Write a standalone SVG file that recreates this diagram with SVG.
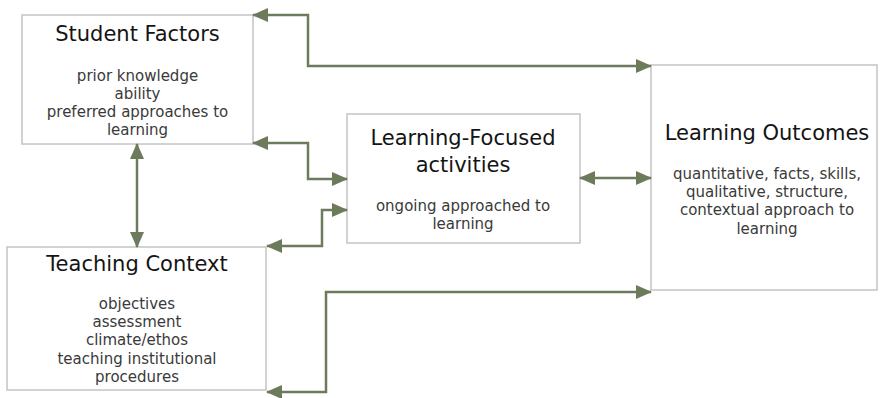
<svg xmlns="http://www.w3.org/2000/svg" width="880" height="398" viewBox="0 0 880 398">
  <style>
    .box { fill: #ffffff; stroke: #c4c4c4; stroke-width: 1.5; }
    .title { font-family: "DejaVu Sans", Verdana, sans-serif; font-size: 21px; fill: #141414; text-anchor: middle; }
    .body { font-family: "DejaVu Sans", Verdana, sans-serif; font-size: 15px; fill: #3a3a3a; text-anchor: middle; }
    .link { fill: none; stroke: #6d7b5d; stroke-width: 2.5; marker-start: url(#head); marker-end: url(#head); }
  </style>
  <defs>
    <marker id="head" markerUnits="userSpaceOnUse" viewBox="0 0 16 14" refX="15" refY="7" markerWidth="16" markerHeight="14" orient="auto-start-reverse">
      <path d="M0,0 L16,7 L0,14 Z" fill="#6d7b5d"/>
    </marker>
  </defs>
  <rect width="880" height="398" fill="#ffffff"/>

  <g id="student-factors">
    <rect class="box" x="22" y="15" width="231" height="129"/>
    <text class="title" x="137.5" y="41">Student Factors</text>
    <text class="body" x="137.5" y="81">prior knowledge</text>
    <text class="body" x="137.5" y="99">ability</text>
    <text class="body" x="137.5" y="117">preferred approaches to</text>
    <text class="body" x="137.5" y="135">learning</text>
  </g>

  <g id="teaching-context">
    <rect class="box" x="7" y="247" width="259" height="143"/>
    <text class="title" x="137" y="271">Teaching Context</text>
    <text class="body" x="137" y="309">objectives</text>
    <text class="body" x="137" y="327">assessment</text>
    <text class="body" x="137" y="345">climate/ethos</text>
    <text class="body" x="137" y="364">teaching institutional</text>
    <text class="body" x="137" y="382">procedures</text>
  </g>

  <g id="learning-focused">
    <rect class="box" x="347" y="114" width="233" height="129"/>
    <text class="title" x="463" y="145">Learning-Focused</text>
    <text class="title" x="463" y="172">activities</text>
    <text class="body" x="463" y="211">ongoing approached to</text>
    <text class="body" x="463" y="229">learning</text>
  </g>

  <g id="learning-outcomes">
    <rect class="box" x="651" y="65" width="226" height="225"/>
    <text class="title" x="767" y="140">Learning Outcomes</text>
    <text class="body" x="767" y="179">quantitative, facts, skills,</text>
    <text class="body" x="767" y="197">qualitative, structure,</text>
    <text class="body" x="767" y="215">contextual approach to</text>
    <text class="body" x="767" y="234">learning</text>
  </g>

  <g id="connectors">
    <path class="link" d="M253,15 H308 V66 H651"/>
    <path class="link" d="M253,143 H308 V179 H347"/>
    <path class="link" d="M267,246 H322 V210 H347"/>
    <path class="link" d="M137,144 V247"/>
    <path class="link" d="M580,178 H651"/>
    <path class="link" d="M267,392 H326 V292 H651"/>
  </g>
</svg>
